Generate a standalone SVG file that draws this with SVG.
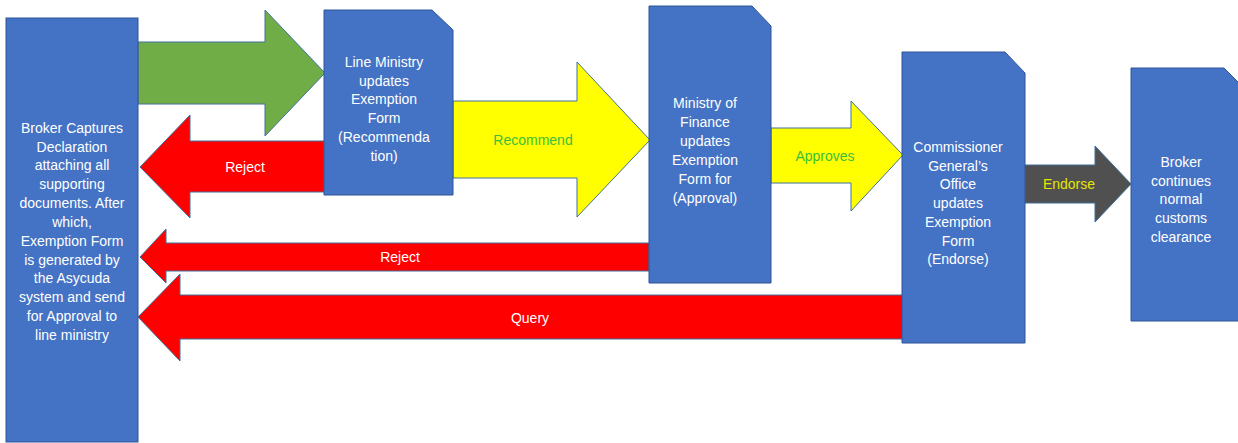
<svg xmlns="http://www.w3.org/2000/svg" width="1238" height="443" viewBox="0 0 1238 443">
<style>
.box{fill:#4472c4;stroke:#2f5597;stroke-width:1}
.arr{stroke:#41719c;stroke-width:1;stroke-linejoin:miter}
.t{font-family:"Liberation Sans",Arial,sans-serif;font-size:14px;fill:#ffffff;text-anchor:middle}
.green{fill:#70ad47}.red{fill:#ff0000}.yellow{fill:#ffff00}.dark{fill:#505050}
</style>
<rect width="1238" height="443" fill="#ffffff"/>
<g id="connectors">
<g id="c-submit"><path class="arr green" d="M138,42 H265 V10 L325,73 L265,136 V104 H138 Z"/></g>
<g id="c-reject1"><path class="arr red" d="M324,141 H190 V115 L140,167 L190,218 V192 H324 Z"/><text class="t" x="245" y="172">Reject</text></g>
<g id="c-recommend"><path class="arr yellow" d="M453,101 H577 V62 L650,140 L577,217 V178 H453 Z"/><text class="t" x="533" y="145" style="fill:#3cc03c">Recommend</text></g>
<g id="c-reject2"><path class="arr red" d="M649,243 H166 V229 L140,257 L166,283 V271 H649 Z"/><text class="t" x="400" y="262">Reject</text></g>
<g id="c-query"><path class="arr red" d="M903,295 H180 V274 L138,317 L180,361 V339 H903 Z"/><text class="t" x="530" y="323">Query</text></g>
<g id="c-approves"><path class="arr yellow" d="M771,128 H851 V101 L903,155 L851,211 V183 H771 Z"/><text class="t" x="825" y="161" style="fill:#3cc03c">Approves</text></g>
<g id="c-endorse"><path class="arr dark" d="M1025,165 H1095 V146 L1131,184 L1095,222 V203 H1025 Z"/><text class="t" x="1069" y="189" style="fill:#e6e600">Endorse</text></g>
</g>
<g id="broker">
<rect class="box" x="6" y="18" width="132" height="424"/>
<text class="t"><tspan x="72" y="133">Broker Captures</tspan><tspan x="72" y="152">Declaration</tspan><tspan x="72" y="170">attaching all</tspan><tspan x="72" y="189">supporting</tspan><tspan x="72" y="208">documents. After</tspan><tspan x="72" y="227">which,</tspan><tspan x="72" y="246">Exemption Form</tspan><tspan x="72" y="265">is generated by</tspan><tspan x="72" y="283">the Asycuda</tspan><tspan x="72" y="302">system and send</tspan><tspan x="72" y="321">for Approval to</tspan><tspan x="72" y="340">line ministry</tspan></text>
</g>
<g id="line-ministry">
<path class="box" d="M324,10 H432 L453,30 V195 H324 Z"/>
<text class="t"><tspan x="384" y="67">Line Ministry</tspan><tspan x="384" y="86">updates</tspan><tspan x="384" y="104">Exemption</tspan><tspan x="384" y="123">Form</tspan><tspan x="384" y="142">(Recommenda</tspan><tspan x="384" y="161">tion)</tspan></text>
</g>
<g id="ministry-finance">
<path class="box" d="M649,6 H752 L771,26 V283 H649 Z"/>
<text class="t"><tspan x="705" y="108">Ministry of</tspan><tspan x="705" y="127">Finance</tspan><tspan x="705" y="146">updates</tspan><tspan x="705" y="165">Exemption</tspan><tspan x="705" y="184">Form for</tspan><tspan x="705" y="203">(Approval)</tspan></text>
</g>
<g id="commissioner">
<path class="box" d="M902,52 H1005 L1025,73 V343 H902 Z"/>
<text class="t"><tspan x="958" y="152">Commissioner</tspan><tspan x="958" y="171">General’s</tspan><tspan x="958" y="189">Office</tspan><tspan x="958" y="208">updates</tspan><tspan x="958" y="227">Exemption</tspan><tspan x="958" y="246">Form</tspan><tspan x="958" y="264">(Endorse)</tspan></text>
</g>
<g id="broker-continues">
<path class="box" d="M1131,68 H1224 L1244,88 V321 H1131 Z"/>
<text class="t"><tspan x="1181" y="167">Broker</tspan><tspan x="1181" y="186">continues</tspan><tspan x="1181" y="204">normal</tspan><tspan x="1181" y="223">customs</tspan><tspan x="1181" y="242">clearance</tspan></text>
</g>
</svg>
